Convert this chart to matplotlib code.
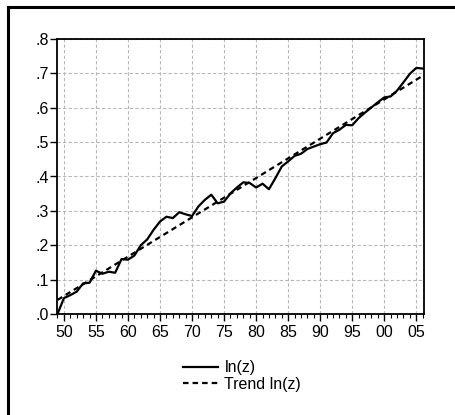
import matplotlib

matplotlib.use("Agg")

import matplotlib.pyplot as plt
from matplotlib.lines import Line2D
from matplotlib.ticker import FixedLocator, FuncFormatter, MultipleLocator

years = list(range(1949, 2007))
ln_z = [
    0.000, 0.046, 0.055, 0.065, 0.089, 0.091, 0.126, 0.117, 0.123, 0.120,
    0.160, 0.158, 0.170, 0.200, 0.217, 0.245, 0.269, 0.283, 0.279, 0.296,
    0.290, 0.285, 0.313, 0.332, 0.347, 0.322, 0.327, 0.351, 0.368, 0.383,
    0.381, 0.368, 0.379, 0.363, 0.395, 0.429, 0.444, 0.460, 0.466, 0.480,
    0.487, 0.494, 0.499, 0.526, 0.536, 0.550, 0.549, 0.570, 0.586, 0.601,
    0.616, 0.630, 0.633, 0.650, 0.674, 0.699, 0.716, 0.714,
]
trend_years = [1949, 2006]
trend_vals = [0.041, 0.693]

plt.rcParams["font.family"] = ["Liberation Sans", "DejaVu Sans"]

fig = plt.figure(figsize=(4.56, 4.15), dpi=100)
ax = fig.add_axes([57.5 / 456, 1 - 314 / 415, (424 - 57.5) / 456, (314 - 39) / 415])

ax.plot(years, ln_z, color="black", lw=1.6, label="ln(z)")
ax.plot(trend_years, trend_vals, color="black", lw=1.6, ls=(0, (2.5, 1.8)), label="Trend ln(z)")

ax.set_xlim(1949, 2006.2)
ax.set_ylim(0, 0.8)
ax.xaxis.set_major_locator(FixedLocator(range(1950, 2006, 5)))
ax.xaxis.set_minor_locator(MultipleLocator(1))
ax.xaxis.set_major_formatter(FuncFormatter(lambda v, p: f"{int(v) % 100:02d}"))
ax.yaxis.set_major_locator(MultipleLocator(0.1))
ax.yaxis.set_major_formatter(FuncFormatter(lambda v, p: f"{v:.1f}".lstrip("0")))

ax.grid(True, color="#b8b8b8", ls=(0, (3, 2)), lw=0.8)
ax.tick_params(axis="both", which="major", direction="out", length=5, width=1,
               labelsize=11.5, color="black")
ax.tick_params(axis="x", which="minor", direction="out", length=3, width=0.8)
ax.tick_params(axis="y", pad=1)
ax.tick_params(axis="x", pad=3)
for sp in ax.spines.values():
    sp.set_linewidth(1.3)

handles = [
    Line2D([0], [0], color="black", lw=1.6),
    Line2D([0], [0], color="black", lw=1.6, ls=(0, (2.5, 1.8))),
]
fig.legend(handles, ["ln(z)", "Trend ln(z)"], loc="center",
           bbox_to_anchor=(242 / 456, 1 - 376 / 415), frameon=False,
           fontsize=11.5, handlelength=2.2, handletextpad=0.4, labelspacing=0.1)

# outer frame: left and top edges only
fig.add_artist(Line2D([8 / 456, 8 / 456], [0, 1 - 7 / 415], color="black", lw=2.2,
                      transform=fig.transFigure))
fig.add_artist(Line2D([8 / 456, 1], [1 - 7 / 415, 1 - 7 / 415], color="black", lw=2.2,
                      transform=fig.transFigure))

fig.savefig("out.png", dpi=100)
